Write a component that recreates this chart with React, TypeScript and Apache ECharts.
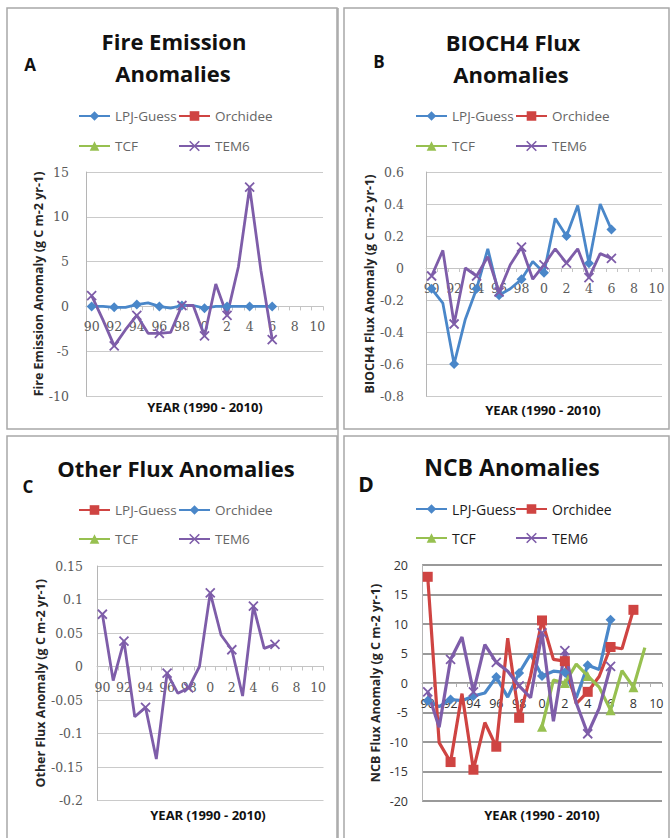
import React, { useEffect, useRef } from 'react';
import * as echarts from 'echarts';

// ---------- data ----------
const CATS = ['90', '91', '92', '93', '94', '95', '96', '97', '98', '99', '0', '1', '2', '3', '4', '5', '6', '7', '8', '9', '10'];

// Panel A – Fire Emission Anomalies
const A_LPJ = [0, 0, -0.1, -0.1, 0.2, 0.4, 0, -0.2, 0.1, 0.1, -0.2, 0, 0, 0, 0, 0, 0];
const A_TEM6 = [1.2, -1.5, -4.4, -2.6, -1.0, -3.0, -3.0, -2.9, 0.1, 0.1, -3.3, 2.5, -1.0, 4.4, 13.3, 4.0, -3.7];

// Panel B – BIOCH4 Flux Anomalies
const B_LPJ = [-0.13, -0.22, -0.6, -0.32, -0.13, 0.12, -0.17, -0.13, -0.07, 0.04, -0.03, 0.31, 0.2, 0.39, 0.03, 0.4, 0.24];
const B_TEM6 = [-0.05, 0.11, -0.35, 0.0, -0.05, 0.07, -0.15, 0.02, 0.13, -0.07, 0.02, 0.12, 0.03, 0.12, -0.06, 0.09, 0.06];

// Panel C – Other Flux Anomalies
const C_TEM6 = [0.078, -0.021, 0.038, -0.075, -0.061, -0.138, -0.01, -0.04, -0.032, 0.0, 0.11, 0.047, 0.025, -0.044, 0.09, 0.027, 0.033];

// Panel D – NCB Anomalies
const D_LPJ = [-3, -4, -2.8, -3, -2.2, -1.7, 1.0, -2.4, 1.7, 4.9, 1.2, 2.0, 1.8, -2.5, 3.0, 2.3, 10.7];
const D_ORC = [18, -10.1, -13.4, -1.8, -14.7, -6.7, -10.8, 7.6, -5.9, 1.2, 10.6, 4.0, 3.7, -3.5, -1.5, 1.1, 6.1, 5.8, 12.4];
const D_TCF = [null, null, null, null, null, null, null, null, null, null, -7.4, 0.5, 0.0, 3.2, 1.2, -0.7, -4.6, 2.1, -0.7, 6.0];
const D_TEM6 = [-1.5, -7.5, 4.0, 7.8, -1.5, 6.5, 3.5, 2.0, -0.5, -2.5, 8.5, -6.5, 5.5, -3.4, -8.6, -4.3, 2.8];

const Y_TICKS = {
  A: { min: -10, max: 15, interval: 5 },
  B: { min: -0.8, max: 0.6, interval: 0.2 },
  C: { min: -0.2, max: 0.15, interval: 0.05 },
  D: { min: -20, max: 20, interval: 5 },
};

// ---------- styles ----------
const BLUE = '#4A87C9';
const RED = '#CF4442';
const GREEN = '#97C050';
const PURPLE = '#7E5DA9';
const XSYM = 'path://M0,0L10,10M10,0L0,10';
const SANS = '"Open Sans", "DejaVu Sans", sans-serif';
const SERIF = '"DejaVu Serif", serif';

const GRIDS = [
  { left: 86, top: 172, width: 237, height: 224 },
  { left: 426, top: 172, width: 236, height: 224 },
  { left: 97, top: 566, width: 226.5, height: 234.5 },
  { left: 422, top: 565, width: 240, height: 236 },
];

function mkSeries(panel: string, name: string, gi: number, data: any[], color: string, symbol: string, width = 2.8) {
  const isX = symbol === XSYM;
  return {
    type: 'line',
    name: panel + '|' + name,
    xAxisIndex: gi,
    yAxisIndex: gi,
    data,
    symbol,
    symbolSize: isX ? 9 : 10,
    showSymbol: true,
    connectNulls: false,
    lineStyle: { color, width },
    itemStyle: { color, borderColor: color, borderWidth: isX ? 1.8 : 0 },
    emphasis: { disabled: true },
  };
}

function mkLegend(panel: string, name: string, left: number, top: number, color: string, symbol: string, textColor: string, fontSize: number) {
  const isX = symbol === XSYM;
  return {
    show: true,
    selectedMode: false,
    left,
    top: top - 6,
    padding: 0,
    itemWidth: 31,
    itemHeight: 12,
    data: [
      {
        name: panel + '|' + name,
        itemStyle: isX ? { borderColor: color, borderWidth: 1.6 } : {},
      },
    ],
    formatter: (n: string) => n.split('|')[1],
    textStyle: { color: textColor, fontSize, fontFamily: SANS },
  };
}

// label margin so that x labels sit just under the zero line
function zeroMargin(gi: number, key: 'A' | 'B' | 'C' | 'D') {
  const g = GRIDS[gi];
  const t = Y_TICKS[key];
  const zeroY = g.top + (g.height * t.max) / (t.max - t.min);
  return zeroY + 14 - (g.top + g.height);
}

function mkXAxis(gi: number, key: 'A' | 'B' | 'C' | 'D', labelFont: string, labelColor: string, lineColor: string) {
  return {
    type: 'category',
    gridIndex: gi,
    data: CATS,
    boundaryGap: true,
    axisLine: { show: true, onZero: true, lineStyle: { color: lineColor, width: 1 } },
    axisTick: { show: true, length: 4, interval: 0, lineStyle: { color: lineColor } },
    axisLabel: { interval: 1, margin: zeroMargin(gi, key), fontFamily: labelFont, fontSize: 12.5, color: labelColor },
    splitLine: { show: false },
  };
}

function mkYAxis(gi: number, key: 'A' | 'B' | 'C' | 'D', name: string, nameGap: number, labelMargin: number, labelFont: string, labelColor: string, gridColor: string, gridWidth: number) {
  const t = Y_TICKS[key];
  return {
    type: 'value',
    gridIndex: gi,
    min: t.min,
    max: t.max,
    interval: t.interval,
    name,
    nameLocation: 'middle',
    nameGap,
    nameTextStyle: { fontFamily: SANS, fontWeight: 'bold', fontSize: 12.5, color: '#262626' },
    axisLine: { show: true, lineStyle: { color: '#b5b5b5', width: 1 } },
    axisTick: { show: false },
    axisLabel: { margin: labelMargin, fontFamily: labelFont, fontSize: 12.5, color: labelColor },
    splitLine: { show: true, lineStyle: { color: gridColor, width: gridWidth } },
  };
}

function txt(text: string, x: number, y: number, size: number, color = '#111', weight = 'bold') {
  return {
    type: 'text',
    x,
    y,
    silent: true,
    style: {
      text,
      fill: color,
      font: `${weight} ${size}px ${SANS}`,
      align: 'center',
      verticalAlign: 'middle',
    },
  };
}

function frame(x: number, y: number, w: number, h: number) {
  return {
    type: 'rect',
    silent: true,
    shape: { x, y, width: w, height: h },
    style: { fill: 'none', stroke: '#a8a8a8', lineWidth: 1.5 },
  };
}

export default function App() {
  const ref = useRef<HTMLDivElement>(null);
  useEffect(() => {
    if (!ref.current) return;
    const chart = echarts.init(ref.current, undefined, { renderer: 'svg' });
    const gray = '#5a5a5a';
    const option: any = {
      animation: false,
      backgroundColor: '#ffffff',
      grid: GRIDS,
      xAxis: [
        mkXAxis(0, 'A', SERIF, gray, '#c4c4c4'),
        mkXAxis(1, 'B', SERIF, gray, '#c4c4c4'),
        mkXAxis(2, 'C', SERIF, gray, '#c4c4c4'),
        mkXAxis(3, 'D', SANS, '#333', '#b0b0b0'),
      ],
      yAxis: [
        mkYAxis(0, 'A', 'Fire Emission Anomaly (g C m-2 yr-1)', 40, 17, SERIF, gray, '#cacaca', 1),
        mkYAxis(1, 'B', 'BIOCH4 Flux Anomaly (g C m-2 yr-1)', 44, 22, SERIF, gray, '#cacaca', 1),
        mkYAxis(2, 'C', 'Other Flux Anomaly (g C m-2 yr-1)', 50, 14, SERIF, gray, '#cacaca', 1),
        mkYAxis(3, 'D', 'NCB Flux Anomaly (g C m-2 yr-1)', 40, 14, SANS, '#333', '#999999', 2),
      ],
      legend: [
        mkLegend('A', 'LPJ-Guess', 78, 115, BLUE, 'diamond', '#666', 13.5),
        mkLegend('A', 'Orchidee', 178, 115, RED, 'rect', '#666', 13.5),
        mkLegend('A', 'TCF', 78, 145, GREEN, 'triangle', '#666', 13.5),
        mkLegend('A', 'TEM6', 178, 145, PURPLE, XSYM, '#666', 13.5),
        mkLegend('B', 'LPJ-Guess', 415, 115, BLUE, 'diamond', '#666', 13.5),
        mkLegend('B', 'Orchidee', 515, 115, RED, 'rect', '#666', 13.5),
        mkLegend('B', 'TCF', 415, 145, GREEN, 'triangle', '#666', 13.5),
        mkLegend('B', 'TEM6', 515, 145, PURPLE, XSYM, '#666', 13.5),
        mkLegend('C', 'LPJ-Guess', 78, 509, RED, 'rect', '#666', 13.5),
        mkLegend('C', 'Orchidee', 178, 509, BLUE, 'diamond', '#666', 13.5),
        mkLegend('C', 'TCF', 78, 538, GREEN, 'triangle', '#666', 13.5),
        mkLegend('C', 'TEM6', 178, 538, PURPLE, XSYM, '#666', 13.5),
        mkLegend('D', 'LPJ-Guess', 415, 508, BLUE, 'diamond', '#1a1a1a', 14),
        mkLegend('D', 'Orchidee', 515, 508, RED, 'rect', '#1a1a1a', 14),
        mkLegend('D', 'TCF', 415, 537, GREEN, 'triangle', '#1a1a1a', 14),
        mkLegend('D', 'TEM6', 515, 537, PURPLE, XSYM, '#1a1a1a', 14),
      ],
      series: [
        mkSeries('A', 'LPJ-Guess', 0, A_LPJ, BLUE, 'diamond'),
        mkSeries('A', 'Orchidee', 0, [], RED, 'rect'),
        mkSeries('A', 'TCF', 0, [], GREEN, 'triangle'),
        mkSeries('A', 'TEM6', 0, A_TEM6, PURPLE, XSYM),
        mkSeries('B', 'LPJ-Guess', 1, B_LPJ, BLUE, 'diamond'),
        mkSeries('B', 'Orchidee', 1, [], RED, 'rect'),
        mkSeries('B', 'TCF', 1, [], GREEN, 'triangle'),
        mkSeries('B', 'TEM6', 1, B_TEM6, PURPLE, XSYM),
        mkSeries('C', 'LPJ-Guess', 2, [], RED, 'rect'),
        mkSeries('C', 'Orchidee', 2, [], BLUE, 'diamond'),
        mkSeries('C', 'TCF', 2, [], GREEN, 'triangle'),
        mkSeries('C', 'TEM6', 2, C_TEM6, PURPLE, XSYM),
        mkSeries('D', 'LPJ-Guess', 3, D_LPJ, BLUE, 'diamond', 3.2),
        mkSeries('D', 'Orchidee', 3, D_ORC, RED, 'rect', 3.2),
        mkSeries('D', 'TCF', 3, D_TCF, GREEN, 'triangle', 3.2),
        mkSeries('D', 'TEM6', 3, D_TEM6, PURPLE, XSYM, 3.2),
      ],
      graphic: [
        frame(7, 8, 330, 421),
        frame(344, 8, 325, 421),
        { type: 'line', silent: true, shape: { x1: 338, y1: 8, x2: 338, y2: 838 }, style: { stroke: '#a8a8a8', lineWidth: 1.5 } },
        frame(7, 436, 330, 410),
        frame(344, 436, 325, 410),
        txt('A', 30, 64, 17),
        txt('Fire Emission', 174, 41, 22),
        txt('Anomalies', 173, 73, 22),
        txt('B', 379, 61, 17),
        txt('BIOCH4 Flux', 513, 42, 22),
        txt('Anomalies', 511, 74, 22),
        txt('C', 28, 486, 17),
        txt('Other Flux Anomalies', 176, 468, 22),
        txt('D', 366, 484, 21),
        txt('NCB Anomalies', 512, 467, 23),
        txt('YEAR (1990 - 2010)', 205, 407, 13),
        txt('YEAR (1990 - 2010)', 543, 410, 13),
        txt('YEAR (1990 - 2010)', 208, 815, 13),
        txt('YEAR (1990 - 2010)', 542, 815, 13),
      ],
    };
    chart.setOption(option);
    return () => chart.dispose();
  }, []);
  return (
    <div
      ref={ref}
      style={{ position: 'absolute', left: 0, top: 0, width: 671, height: 838, background: '#fff' }}
    />
  );
}
